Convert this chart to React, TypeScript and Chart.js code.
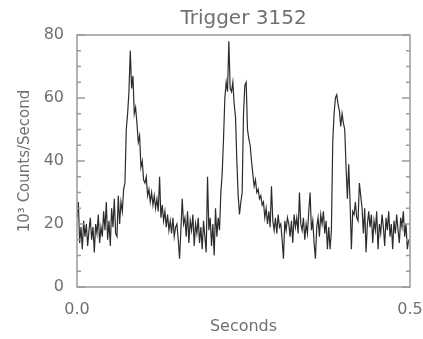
import { useEffect, useRef } from "react";
import { Chart, registerables } from "chart.js";

Chart.register(...registerables);

const TITLE = "Trigger 3152";
const X_TITLE = "Seconds";
const Y_TITLE = "10³ Counts/Second";
const X_TICKS = [0, 0.5];
const X_MIN = 0;
const X_MAX = 0.5;
const Y_MIN = 0;
const Y_MAX = 80;
const Y_MAJOR = 20;
const Y_MINOR = 5;
const BIN_SECONDS = 0.002;

// 10^3 counts per second, one value per 2 ms bin
const COUNTS_A = [
  22, 27, 14, 19, 12, 21, 16, 20, 13, 18,
  22, 15, 19, 11, 20, 17, 23, 14, 19, 16,
  24, 18, 27, 15, 21, 13, 25, 19, 28, 17,
  16, 29, 20, 27, 24, 31, 33, 50, 55, 62,
  75, 63, 67, 55, 57, 52, 46, 48, 38, 40,
];
const COUNTS_B = [
  34, 33, 35, 29, 31, 27, 30, 26, 29, 25,
  28, 24, 35, 22, 26, 21, 24, 19, 23, 18,
  21, 17, 22, 16, 19, 20, 15, 9, 18, 28,
  20, 22, 16, 24, 14, 21, 18, 23, 13, 20,
  17, 22, 14, 19, 12, 21, 16, 11, 35, 18,
];
const COUNTS_C = [
  22, 13, 20, 10, 25, 16, 22, 18, 30, 36,
  47, 60, 65, 62, 78, 63, 62, 65, 58, 54,
  40, 29, 23, 27, 30, 55, 64, 65, 50, 47,
  45, 40, 36, 32, 34, 30, 31, 28, 29, 26,
  27, 22, 25, 20, 24, 19, 32, 21, 18, 22,
];
const COUNTS_D = [
  17, 23, 19, 20, 15, 9, 21, 18, 22, 20,
  16, 21, 14, 23, 19, 22, 17, 30, 20, 18,
  22, 15, 20, 17, 24, 30, 18, 21, 14, 9,
  19, 22, 16, 23, 20, 24, 17, 21, 12, 19,
  12, 18, 46, 55, 60, 61, 58, 56, 51, 55,
];
const COUNTS_E = [
  52, 50, 38, 28, 39, 27, 12, 24, 23, 27,
  22, 21, 33, 29, 25, 17, 25, 11, 20, 24,
  19, 23, 14, 21, 18, 24, 12, 20, 17, 23,
  19, 13, 22, 18, 24, 16, 20, 12, 21, 17,
  23, 18, 14, 22, 19, 24, 16, 20, 12, 15,
];

const COUNTS = [...COUNTS_A, ...COUNTS_B, ...COUNTS_C, ...COUNTS_D, ...COUNTS_E];

const TEXT_COLOR = "#707070";
const FRAME_COLOR = "#9a9a9a";
const LINE_COLOR = "#2c2c2c";
const FONT = "'DejaVu Sans', sans-serif";

const framePlugin = {
  id: "frameTicks",
  afterDraw(chart: any) {
    const { ctx, chartArea: a, scales } = chart;
    const y = scales.y;
    ctx.save();
    ctx.strokeStyle = FRAME_COLOR;
    ctx.lineWidth = 1.5;
    ctx.strokeRect(a.left, a.top, a.right - a.left, a.bottom - a.top);
    ctx.beginPath();
    for (let v = Y_MIN; v <= Y_MAX; v += Y_MINOR) {
      const py = y.getPixelForValue(v);
      const len = v % Y_MAJOR === 0 ? 8 : 4;
      ctx.moveTo(a.left, py);
      ctx.lineTo(a.left + len, py);
      ctx.moveTo(a.right, py);
      ctx.lineTo(a.right - len, py);
    }
    ctx.stroke();
    ctx.restore();
  },
};

export default function App() {
  const ref = useRef<HTMLCanvasElement | null>(null);

  useEffect(() => {
    if (!ref.current) return;
    const data = COUNTS.map((v, i) => ({ x: i * BIN_SECONDS, y: v }));
    const chart = new Chart(ref.current, {
      type: "line",
      data: {
        datasets: [
          {
            data,
            borderColor: LINE_COLOR,
            borderWidth: 1.2,
            pointRadius: 0,
            tension: 0,
            fill: false,
          },
        ],
      },
      plugins: [framePlugin],
      options: {
        animation: false,
        responsive: false,
        devicePixelRatio: 1,
        layout: { padding: { left: 0, right: 13, top: 0, bottom: 0 } },
        plugins: {
          legend: { display: false },
          tooltip: { enabled: false },
          title: {
            display: true,
            text: TITLE,
            fullSize: false,
            color: TEXT_COLOR,
            font: { family: FONT, size: 20, weight: "normal" },
            padding: { top: 7, bottom: 4 },
          },
        },
        scales: {
          x: {
            type: "linear",
            min: X_MIN,
            max: X_MAX,
            afterBuildTicks: (s: any) => {
              s.ticks = X_TICKS.map((v) => ({ value: v }));
            },
            afterFit: (s: any) => {
              s.height = 52;
              s.paddingLeft = 0;
              s.paddingRight = 0;
            },
            grid: { display: false },
            border: { display: false },
            ticks: {
              color: TEXT_COLOR,
              font: { family: FONT, size: 16 },
              padding: 5,
              maxRotation: 0,
              autoSkip: false,
              callback: (v: any) => Number(v).toFixed(1),
            },
            title: {
              display: true,
              text: X_TITLE,
              color: TEXT_COLOR,
              font: { family: FONT, size: 16 },
              padding: { top: 0, bottom: 3 },
            },
          },
          y: {
            type: "linear",
            min: Y_MIN,
            max: Y_MAX,
            afterFit: (s: any) => {
              s.width = 77;
              s.paddingTop = 0;
              s.paddingBottom = 0;
            },
            grid: { display: false },
            border: { display: false },
            ticks: {
              stepSize: Y_MAJOR,
              color: TEXT_COLOR,
              font: { family: FONT, size: 16 },
              padding: 5,
              callback: (v: any) => String(v),
            },
            title: {
              display: true,
              text: Y_TITLE,
              color: TEXT_COLOR,
              font: { family: FONT, size: 15 },
              padding: { top: 16, bottom: 0 },
            },
          },
        },
      },
    });
    return () => chart.destroy();
  }, []);

  return (
    <div style={{ position: "absolute", left: 0, top: 0, width: 423, height: 339 }}>
      <canvas ref={ref} width={423} height={339} style={{ width: 423, height: 339 }} />
    </div>
  );
}
